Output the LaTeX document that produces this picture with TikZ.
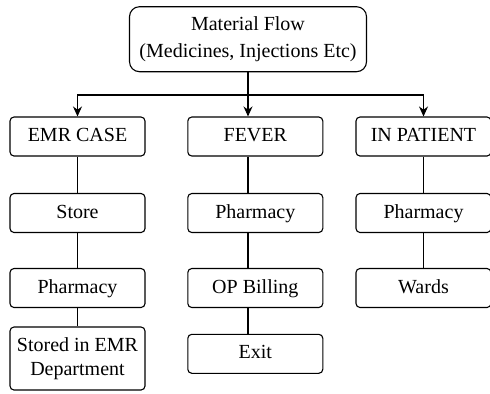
\documentclass[tikz,border=0pt]{standalone}
\usepackage{fontspec}
\setmainfont{Liberation Serif}
\usetikzlibrary{arrows.meta}
\begin{document}
\begin{tikzpicture}[x=0.5pt,y=-0.5pt,line width=0.55pt,
  box/.style={draw,rounded corners=2pt,minimum width=67.5pt,minimum height=19.5pt,align=center,inner ysep=2pt,text height=7pt,text depth=2pt},
  >={Stealth[length=5pt,width=4.5pt]}]
  \useasboundingbox (0,0) rectangle (490,393);
  % top
  \node[draw,rounded corners=5pt,minimum width=118.5pt,minimum height=32.5pt,inner xsep=1pt,align=center] (flow) at (248,39.2)
    {Material Flow\\[1.5pt](Medicines, Injections Etc)};
  \coordinate (bar) at (248,95);
  % left column
  \node[box] (emr) at (77.5,136.5) {EMR CASE};
  \node[box] (store) at (77.5,213) {Store};
  \node[box] (pharmA) at (77.5,288) {Pharmacy};
  \node[box,minimum height=31.5pt,text height=,text depth=] (stored) at (77.5,358.5) {Stored in EMR\\Department};
  % middle column
  \node[box] (fever) at (255.3,136.5) {FEVER};
  \node[box] (pharmB) at (255.3,213) {Pharmacy};
  \node[box] (opbill) at (255.3,288) {OP Billing};
  \node[box] (exit) at (255.3,353.8) {Exit};
  % right column
  \node[box] (inpat) at (423.5,136.5) {IN PATIENT};
  \node[box] (pharmC) at (423.5,213) {Pharmacy};
  \node[box] (wards) at (423.5,288) {Wards};
  % arrows
  \draw (flow.south) -- (bar);
  \draw[->] (bar) -| (emr.north);
  \draw[->] (bar) -| (inpat.north);
  \draw[->] (bar) -- (fever.north -| bar);
  \draw (emr) -- (store) -- (pharmA) -- (stored);
  \draw (fever.south -| bar) -- (pharmB.north -| bar);
  \draw (pharmB.south -| bar) -- (opbill.north -| bar);
  \draw (opbill.south -| bar) -- (exit.north -| bar);
  \draw (inpat) -- (pharmC) -- (wards);
\end{tikzpicture}
\end{document}
